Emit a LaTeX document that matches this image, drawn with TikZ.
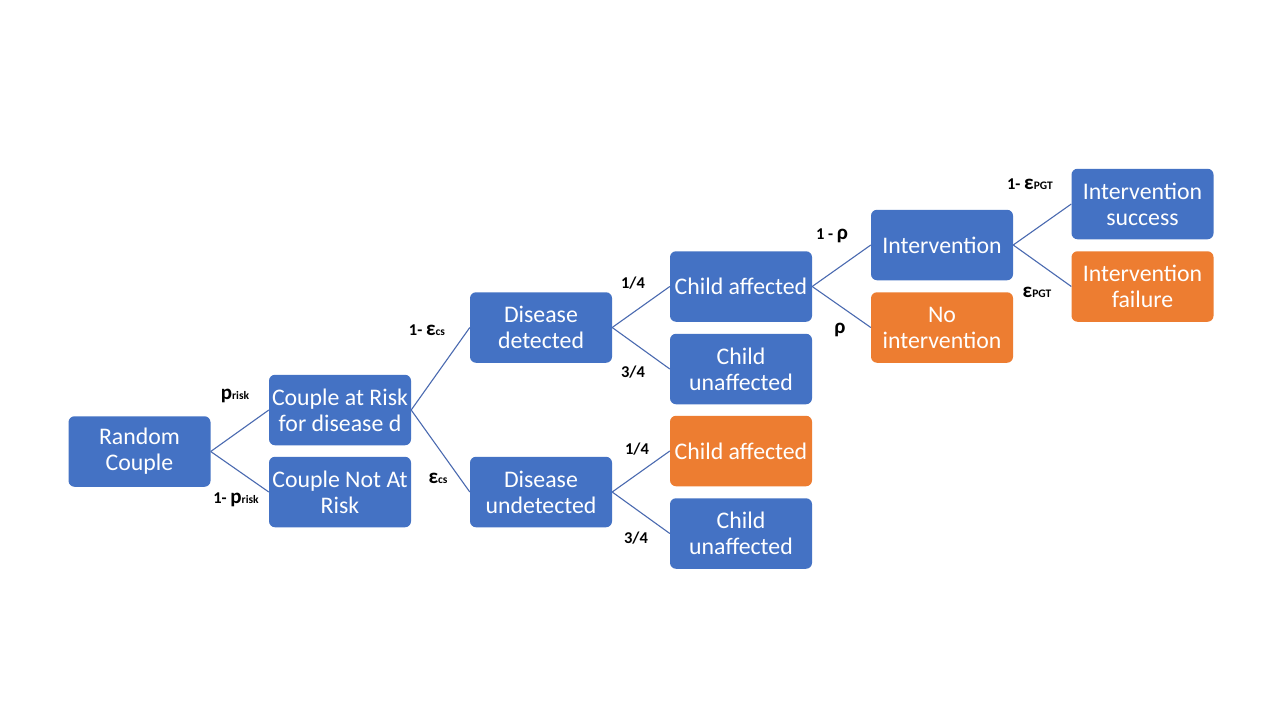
\documentclass[tikz,border=0pt]{standalone}
\usepackage{fontspec}
\setmainfont{Carlito}
\definecolor{bluefill}{HTML}{4472C4}
\definecolor{orangefill}{HTML}{ED7D31}
\definecolor{edgecol}{HTML}{4A6AB0}
\newcommand{\mysub}[1]{{\fontsize{11.5}{12}\selectfont #1}}
\newcommand{\mybig}[1]{{\fontsize{21}{20}\selectfont #1}}
\begin{document}
\begin{tikzpicture}[x=1pt,y=-1pt,
  box/.style={rectangle, rounded corners=6pt, fill=bluefill, minimum width=142pt, minimum height=70.5pt, inner sep=0pt, text=white, align=center, font=\fontsize{23.8}{26}\selectfont},
  obox/.style={box, fill=orangefill},
  edge/.style={draw=edgecol, line width=1.1pt},
  lab/.style={inner sep=0pt, font=\fontsize{16.5}{18}\selectfont\bfseries, text=black},
]
\useasboundingbox (0,0) rectangle (1280,720);
\fill[white] (0,0) rectangle (1280,720);
\node[box] (rc) at (139.5,451.5) {Random\\Couple};
\node[box] (car) at (340,410) {Couple at Risk\\for disease d};
\node[box] (cnr) at (340,492) {Couple Not At\\Risk};
\node[box] (dd) at (541,327.5) {Disease\\detected};
\node[box] (du) at (541,492) {Disease\\undetected};
\node[box] (ca1) at (741,286.5) {Child affected};
\node[box] (cu1) at (741,369) {Child\\unaffected};
\node[obox] (ca2) at (741,451) {Child affected};
\node[box] (cu2) at (741,533.5) {Child\\unaffected};
\node[box] (iv) at (942,245) {Intervention};
\node[obox] (ni) at (942,327.5) {No\\intervention};
\node[box] (is) at (1142.5,204) {Intervention\\success};
\node[obox] (if) at (1142.5,286.5) {Intervention\\failure};

\draw[edge] (rc.east) -- (car.west);
\draw[edge] (rc.east) -- (cnr.west);
\draw[edge] (car.east) -- (dd.west);
\draw[edge] (car.east) -- (du.west);
\draw[edge] (dd.east) -- (ca1.west);
\draw[edge] (dd.east) -- (cu1.west);
\draw[edge] (du.east) -- (ca2.west);
\draw[edge] (du.east) -- (cu2.west);
\draw[edge] (ca1.east) -- (iv.west);
\draw[edge] (ca1.east) -- (ni.west);
\draw[edge] (iv.east) -- (is.west);
\draw[edge] (iv.east) -- (if.west);

\node[lab] (l1) at (235,396) {\mybig{p}\mysub{risk}};
\node[lab] (l2) at (236,500) {1- \mybig{p}\mysub{risk}};
\node[lab] (l3) at (427,330) {1- \mybig{ε}\mysub{cs}};
\node[lab] (l4) at (438,478) {\mybig{ε}\mysub{cs}};
\node[lab] (l5) at (633,283) {1/4};
\node[lab] (l6) at (633,372) {3/4};
\node[lab] (l7) at (637,449) {1/4};
\node[lab] (l8) at (636,538) {3/4};
\node[lab] (l9) at (832,236) {1 - \mybig{ρ}};
\node[lab] (l10) at (840,330) {\mybig{ρ}};
\node[lab] (l11) at (1030,184) {1- \mybig{ε}\mysub{PGT}};
\node[lab] (l12) at (1037,292) {\mybig{ε}\mysub{PGT}};
\end{tikzpicture}
\end{document}
